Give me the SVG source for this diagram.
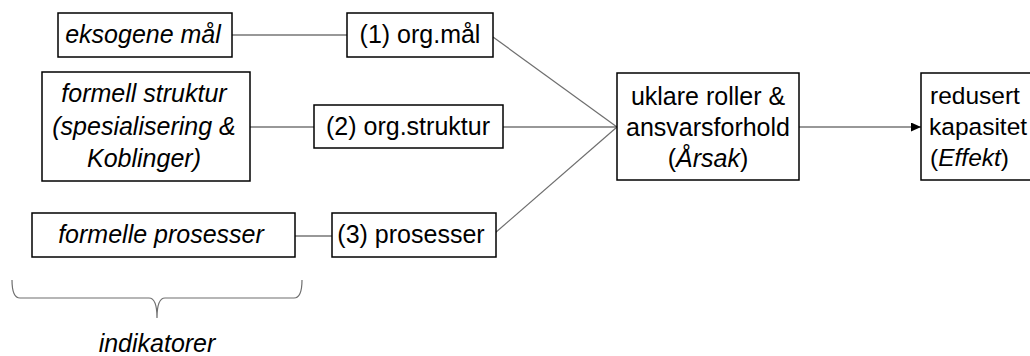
<svg xmlns="http://www.w3.org/2000/svg" width="1030" height="356" viewBox="0 0 1030 356">
<style>
.box{fill:#fff;stroke:#000;stroke-width:1.5}
.t{font-family:"Liberation Sans",Arial,sans-serif;font-size:25px;fill:#000;text-anchor:middle}
.s{text-anchor:start;font-size:24.5px}
.i{font-style:italic}
.ln{stroke:#6e6e6e;stroke-width:1.2;fill:none}
.dk{stroke:#333;stroke-width:1.2;fill:none}
</style>
<defs>
<marker id="ah" markerWidth="11" markerHeight="9" refX="10" refY="4.5" orient="auto" markerUnits="userSpaceOnUse">
<path d="M0,0 L10,4.5 L0,9 Z" fill="#000"/>
</marker>
</defs>
<g id="connectors">
<line class="dk" x1="232" y1="35" x2="347" y2="35"/>
<line class="dk" x1="250" y1="127" x2="314" y2="127"/>
<line class="dk" x1="295" y1="236" x2="332" y2="236"/>
<line class="ln" x1="493" y1="37" x2="617" y2="127"/>
<line class="dk" x1="503" y1="127" x2="617" y2="127"/>
<line class="ln" x1="495" y1="233" x2="617" y2="127"/>
<line class="dk" x1="799" y1="127" x2="921" y2="127" marker-end="url(#ah)"/>
</g>
<g id="eksogene">
<rect class="box" x="58" y="13" width="174" height="44"/>
<text class="t i" x="143" y="43">eksogene mål</text>
</g>
<g id="orgmal">
<rect class="box" x="347" y="13" width="146" height="44"/>
<text class="t" x="420" y="43">(1) org.mål</text>
</g>
<g id="formellstruktur">
<rect class="box" x="42" y="72" width="208" height="109"/>
<text class="t i" x="144" y="102">formell struktur</text>
<text class="t i" x="144" y="135">(spesialisering &amp;</text>
<text class="t i" x="144" y="167">Koblinger)</text>
</g>
<g id="orgstruktur">
<rect class="box" x="314" y="105" width="189" height="43"/>
<text class="t" x="408" y="135">(2) org.struktur</text>
</g>
<g id="formelleprosesser">
<rect class="box" x="32" y="213" width="263" height="44"/>
<text class="t i" x="161" y="243">formelle prosesser</text>
</g>
<g id="prosesser">
<rect class="box" x="332" y="213" width="164" height="44"/>
<text class="t" x="411" y="243">(3) prosesser</text>
</g>
<g id="uklare">
<rect class="box" x="617" y="73" width="182" height="107"/>
<text class="t" x="708" y="105">uklare roller &amp;</text>
<text class="t" x="708" y="136">ansvarsforhold</text>
<text class="t" x="708" y="167">(<tspan class="i">Årsak</tspan>)</text>
</g>
<g id="redusert">
<rect class="box" x="921" y="73" width="200" height="107"/>
<text class="t s" x="930" y="104">redusert</text>
<text class="t s" x="929" y="135">kapasitet</text>
<text class="t s" x="930" y="166">(<tspan class="i">Effekt</tspan>)</text>
</g>
<g id="indikatorer">
<path class="ln" d="M12,280 Q12,298 20,298 L149,298 Q157,298 157,318 Q157,298 165,298 L294,298 Q302,298 302,280"/>
<text class="t i" x="157" y="352">indikatorer</text>
</g>
</svg>
